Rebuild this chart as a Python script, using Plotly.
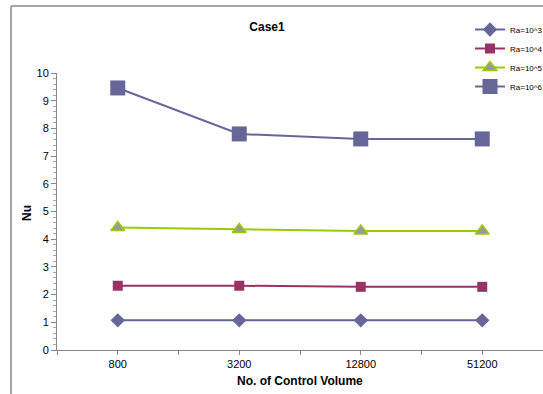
import plotly.graph_objects as go

categories = ["800", "3200", "12800", "51200"]
ra3 = [1.07, 1.07, 1.07, 1.07]
ra4 = [2.32, 2.32, 2.28, 2.28]
ra5 = [4.42, 4.35, 4.30, 4.30]
ra6 = [9.46, 7.80, 7.62, 7.62]
y_ticks = list(range(0, 11))

xs = list(range(len(categories)))

fig = go.Figure()
series = [
    ("Ra=10^3", ra3, "#666699", dict(symbol="diamond", size=11, color="#666699")),
    ("Ra=10^4", ra4, "#993366", dict(symbol="square", size=10, color="#993366")),
    ("Ra=10^5", ra5, "#99CC00", dict(symbol="triangle-up", size=12, color="#999999",
                                     line=dict(color="#99CC00", width=1.5))),
    ("Ra=10^6", ra6, "#666699", dict(symbol="square", size=15, color="#666699")),
]
for name, ys, col, mk in series:
    fig.add_trace(go.Scatter(x=xs, y=ys, name=name, mode="lines+markers",
                             line=dict(color=col, width=2), marker=mk))

W, H = 543, 394
L, R, T, B = 57, 0, 73, 44
pw = W - L - R
ph = H - T - B

def px(x):
    return (x - L) / pw

def py(y):
    return (H - B - y) / ph

fig.update_layout(
    width=W, height=H,
    margin=dict(l=L, r=R, t=T, b=B, autoexpand=False),
    paper_bgcolor="white", plot_bgcolor="white",
    font=dict(family="Liberation Sans, Arial", size=11, color="black"),
    title=dict(text="<b>Case1</b>", x=px(267), xref="paper", xanchor="center",
               y=1 - 27 / H, yanchor="middle", font=dict(size=12)),
    showlegend=True,
    legend=dict(x=px(470), y=py(15), xanchor="left", yanchor="top",
                font=dict(size=8), bgcolor="rgba(0,0,0,0)",
                tracegroupgap=0, itemwidth=30),
    xaxis=dict(range=[-0.5, 3.5], tickvals=xs, ticktext=categories,
               showgrid=False, zeroline=False, showline=True,
               linecolor="#888888", linewidth=1,
               ticks="outside", ticklen=4, tickcolor="#888888",
               minor=dict(tickvals=[-0.5, 0.5, 1.5, 2.5, 3.5], ticks="outside",
                          ticklen=4, tickcolor="#888888"),
               tickfont=dict(size=11)),
    yaxis=dict(range=[0, 10], tickvals=y_ticks,
               showgrid=False, zeroline=False, showline=True,
               linecolor="#888888", linewidth=1,
               ticks="outside", ticklen=5, tickcolor="#888888",
               minor=dict(dtick=0.2, ticks="outside", ticklen=3, tickcolor="#aaaaaa"),
               tickfont=dict(size=11)),
    annotations=[
        dict(text="<b>Nu</b>", x=px(27), y=py(213), xref="paper", yref="paper",
             textangle=-90, showarrow=False, font=dict(size=12),
             xanchor="center", yanchor="middle"),
        dict(text="<b>No. of Control Volume</b>", x=px(300), y=py(381),
             xref="paper", yref="paper", showarrow=False, font=dict(size=12),
             xanchor="center", yanchor="middle"),
    ],
    shapes=[
        dict(type="line", xref="paper", yref="paper", x0=px(11), x1=px(11),
             y0=py(394), y1=py(6), line=dict(color="#888888", width=1.5)),
        dict(type="line", xref="paper", yref="paper", x0=px(11), x1=px(545),
             y0=py(6), y1=py(6), line=dict(color="#888888", width=1.5)),
    ],
)

fig.write_html("out.html")
